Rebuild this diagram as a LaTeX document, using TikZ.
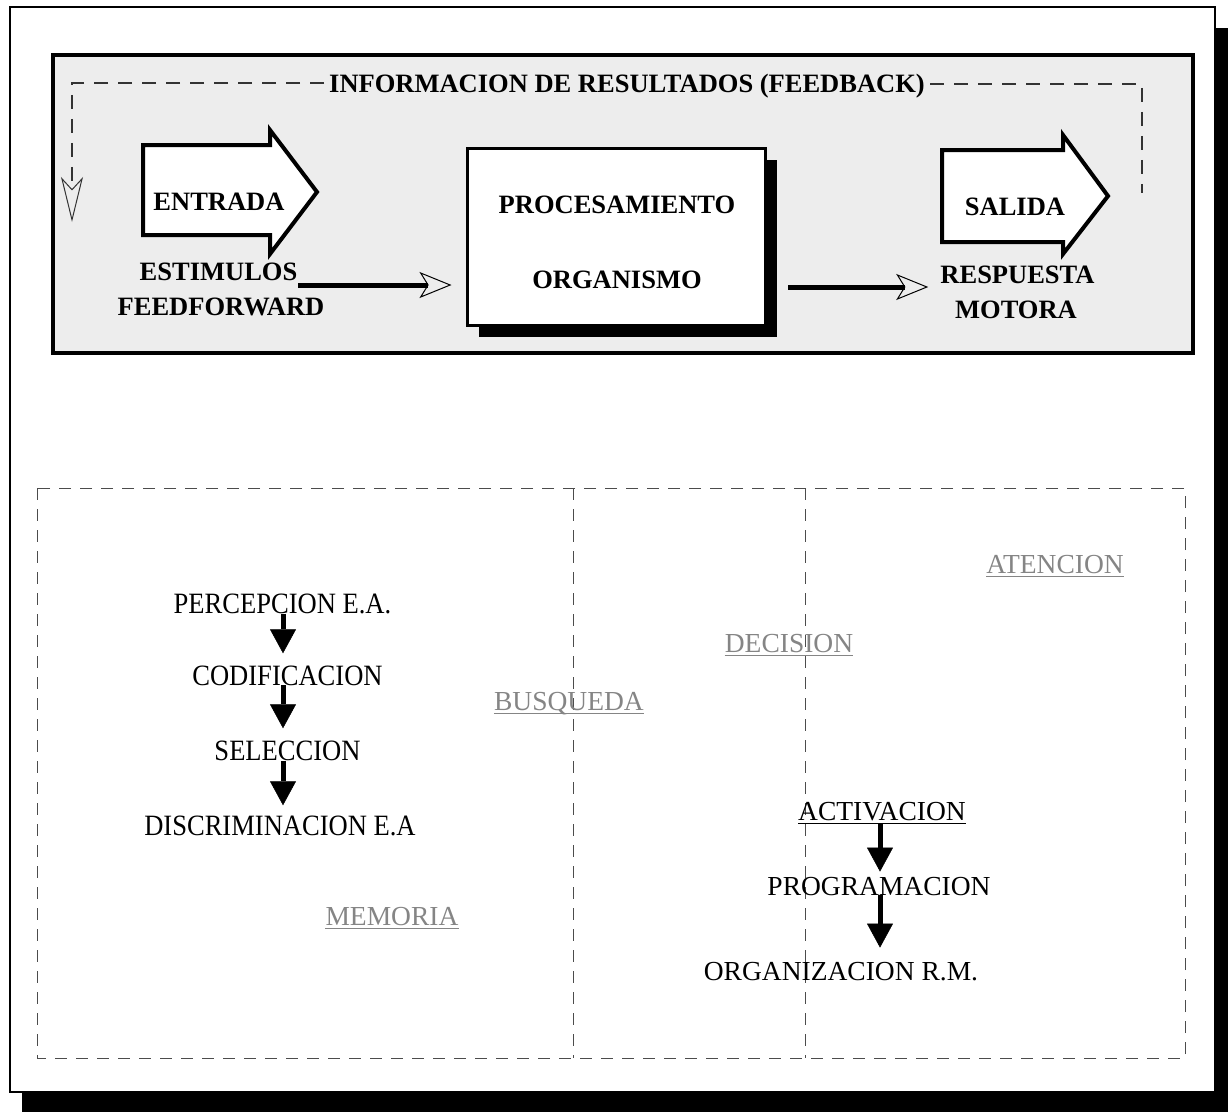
\documentclass[tikz,border=0pt]{standalone}
\usepackage{fontspec}
\setmainfont{Liberation Serif}
\newfontfamily\narrowserif[FakeStretch=0.9]{Liberation Serif}
\usetikzlibrary{arrows.meta,calc}

\begin{document}
\begin{tikzpicture}[x=1pt,y=-1pt,
  lbl/.style={font=\fontsize{26.5}{30}\selectfont\bfseries, inner sep=0pt, anchor=base},
  word/.style={font=\fontsize{27.5}{30}\selectfont, inner sep=0pt, anchor=base},
  narrowword/.style={font=\narrowserif\fontsize{29.5}{32}\selectfont, inner sep=0pt, anchor=base},
  faint/.style={word, text=black!48},
  fbline/.style={draw=black!80, line width=1.2pt, dash pattern=on 14pt off 10pt},
  zone/.style={draw=black!70, line width=1pt, dash pattern=on 12pt off 9pt},
  flow/.style={line width=5pt, -{Stealth[open, length=32pt, width=26pt, inset=8pt, line width=1pt]}},
  downflow/.style={line width=5pt, -{Triangle[length=24pt, width=26pt, line width=0.5pt]}},
  blockarrow/.style={draw, line width=4pt, fill=white, line join=miter},
  uline/.style={line width=1pt},
]
\useasboundingbox (0,0) rectangle (1228,1119);

% page frame with its drop shadow
\draw[line width=1.5pt] (10,7) rectangle (1215,1092);
\fill (1215,28) rectangle (1228,1112);
\fill (22,1092) rectangle (1228,1112);

% ---------- upper panel: input / processing / output ----------
\draw[line width=3.5pt, fill=black!7] (53,55) rectangle (1193,353);

% feedback loop
\node[lbl] (fb) at (627,92.5) {INFORMACION DE RESULTADOS (FEEDBACK)};
\coordinate (fbL) at (72,83);
\coordinate (fbTip) at (72,222);
\coordinate (fbR) at (1142,84);
\coordinate (fbEnd) at (1142,193);
\draw[fbline, -{Stealth[open, length=45pt, width=22pt, inset=12pt, line width=1pt]}]
  ([xshift=-5pt]fb.west |- fbL) -- (fbL) -- (fbTip);
\draw[fbline] ([xshift=5pt]fb.east |- fbR) -- (fbR) -- (fbEnd);

% block arrows
\draw[blockarrow] (143,145) -- (270,145) -- (270,130) -- (317,192) -- (270,254)
  -- (270,235) -- (143,235) -- cycle;
\draw[blockarrow] (942,150) -- (1063,150) -- (1063,135) -- (1108,196) -- (1063,254)
  -- (1063,242) -- (942,242) -- cycle;
\node[lbl] (entrada) at (219,210) {ENTRADA};
\node[lbl] (salida) at (1015,215) {SALIDA};

% processing box with shadow
\fill (479,160) rectangle (777,337);
\node[draw, line width=3pt, fill=white, minimum width=298pt, minimum height=177pt,
  inner sep=0pt] (proc) at (616,236.5) {};
\node[lbl] (procesa) at (617,213) {PROCESAMIENTO};
\node[lbl] (organismo) at (617,288) {ORGANISMO};

% inputs and outputs
\node[lbl] (estim) at (218.5,280) {ESTIMULOS};
\node[lbl] (feedf) at (221,315) {FEEDFORWARD};
\node[lbl] (resp) at (1017.5,283) {RESPUESTA};
\node[lbl] (motora) at (1016,318) {MOTORA};

\coordinate (s1) at (298,285);
\draw[flow, shorten >=14pt] (s1) -- (s1 -| proc.west);
\coordinate (s2) at (788,287);
\draw[flow, shorten >=12pt] (s2) -- (s2 -| resp.west);

% ---------- lower panel: stages ----------
\draw[zone] (37,488) rectangle (1185,1058);
\draw[zone] (573,488) -- (573,1058);
\draw[zone] (805,488) -- (805,1058);

% perception chain
\node[narrowword] (perc) at (282.5,613) {PERCEPCION E.A.};
\node[narrowword] (codif) at (287.5,685) {CODIFICACION};
\node[narrowword] (selec) at (287.5,760) {SELECCION};
\node[narrowword] (discr) at (280,835) {DISCRIMINACION E.A};
\coordinate (colL) at (283,0);
\draw[downflow, shorten >=12pt] (perc.south -| colL) -- (codif.north -| colL);
\draw[downflow, shorten >=12pt] (codif.south -| colL) -- (selec.north -| colL);
\draw[downflow, shorten >=10pt] (selec.south -| colL) -- (discr.north -| colL);

% response chain
\node[word] (activ) at (882,820) {ACTIVACION};
\draw[uline] ([yshift=-3pt]activ.base west) -- ([yshift=-3pt]activ.base east);
\node[word] (progr) at (879,895) {PROGRAMACION};
\node[word] (organ) at (841,980) {ORGANIZACION R.M.};
\coordinate (colR) at (880,0);
\draw[downflow, shorten >=5pt] ([yshift=-3pt]activ.south -| colR) -- (progr.north -| colR);
\draw[downflow, shorten >=14pt] (progr.south -| colR) -- (organ.north -| colR);

% general processes
\node[faint] (busq) at (569,710) {BUSQUEDA};
\node[faint] (decis) at (789,652) {DECISION};
\node[faint] (atenc) at (1055,573) {ATENCION};
\node[faint] (memor) at (392,925) {MEMORIA};
\foreach \n in {busq,decis,atenc,memor}
  \draw[uline, black!48] ([yshift=-3pt]\n.base west) -- ([yshift=-3pt]\n.base east);
\end{tikzpicture}
\end{document}
